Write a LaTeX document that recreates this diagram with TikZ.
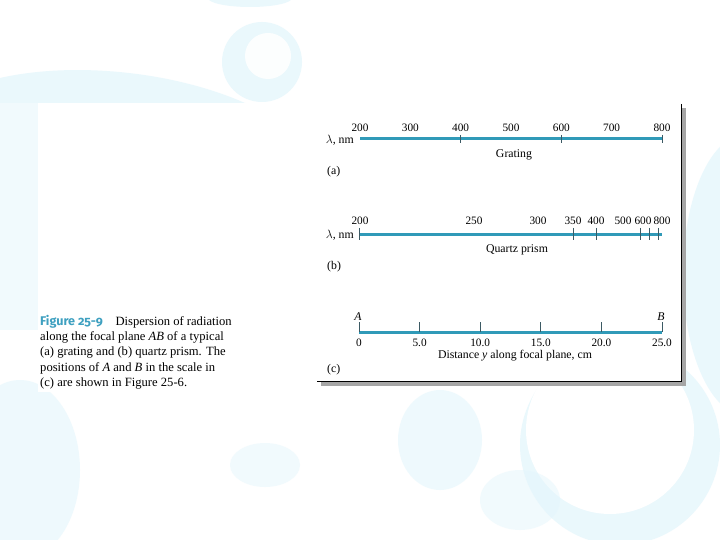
\documentclass[tikz,border=0pt]{standalone}
\usepackage{fontspec}
\setmainfont{Liberation Serif}
\newfontfamily\figfont[Numbers=OldStyle]{Fira Sans}
\usepackage{xcolor}
\usetikzlibrary{positioning,calc}

\definecolor{scaleblue}{RGB}{48,154,184}
\definecolor{tickgray}{RGB}{60,90,100}
\definecolor{capteal}{RGB}{62,160,192}
\definecolor{bgblue}{RGB}{228,246,252}

\begin{document}
\begin{tikzpicture}[
    x=1pt, y=-1pt,
    scaleline/.style={line width=3pt, scaleblue},
    tickmark/.style={line width=0.7pt, tickgray},
    numlabel/.style={font=\fontsize{11.3}{13}\selectfont, inner sep=0pt},
    textlabel/.style={font=\fontsize{11.8}{14}\selectfont, inner sep=0pt},
    bubble/.style={fill=bgblue, draw=none, opacity=0.75}
]
\useasboundingbox (0,0) rectangle (720,540);
\fill[white] (0,0) rectangle (720,540);

% Background bubbles
\fill[bubble] (0,78) .. controls (70,62) and (170,70) .. (245,103) -- (0,103) -- cycle;
\fill[bubble, opacity=0.5] (0,103) rectangle (38,330);
\fill[bubble] (250,-2) ellipse[x radius=42pt, y radius=9pt];
\fill[bubble] (262,62) circle[radius=40pt];
\fill[white, opacity=0.9] (268,56) circle[radius=23pt];
\fill[bubble] (745,275) ellipse[x radius=62pt, y radius=140pt];
\fill[bubble] (620,445) circle[radius=100pt];
\fill[white] (610,430) circle[radius=84pt];
\fill[bubble, opacity=0.6] (440,440) ellipse[x radius=42pt, y radius=50pt];
\fill[bubble, opacity=0.5] (520,500) ellipse[x radius=40pt, y radius=30pt];
\fill[bubble, opacity=0.6] (20,470) ellipse[x radius=60pt, y radius=90pt];
\fill[bubble, opacity=0.5] (265,465) ellipse[x radius=35pt, y radius=22pt];

% White panel with figure frame
\fill[white] (38,103) rectangle (318,392);
\fill[gray!70] (321,381) rectangle (686,386);
\fill[gray!70] (681,108) rectangle (686,386);
\fill[white] (318,103) rectangle (681,381);
\draw[line width=1pt] (681,104) -- (681,381) -- (317,381);

% (a) Grating scale
\coordinate (a0) at (360,139);
\coordinate (a1) at (662,139);
\draw[scaleline] (a0) -- (a1);
\foreach \w [count=\i from 0] in {200,300,400,500,600,700,800}
    \node[numlabel] (ga\i) at (360+50.33*\i,128) {\w};
\foreach \x in {460.7,561.3,662}
    \draw[tickmark] (\x,135) -- (\x,143);
\node[textlabel, anchor=east] (lama) at (354,140) {$\lambda$, nm};
\node[textlabel] (grating) at (514,155) {Grating};
\node[textlabel, anchor=west] (parta) at (327,172) {(a)};

% (b) Quartz prism scale
\coordinate (b0) at (360,234);
\coordinate (b1) at (662,234);
\draw[scaleline] (b0) -- (b1);
\foreach \w/\x in {200/360,250/474,300/538,350/573,400/596,500/623,600/643,800/662}
    \node[numlabel] (qb\w) at (\x,221) {\w};
\foreach \x in {359.5,573,596,640,649,658}
    \draw[tickmark] (\x,228) -- (\x,240);
\node[textlabel, anchor=east] (lamb) at (354,235) {$\lambda$, nm};
\node[textlabel] (quartz) at (517,250) {Quartz prism};
\node[textlabel, anchor=west] (partb) at (327,267) {(b)};

% (c) Distance scale
\coordinate (c0) at (359,332);
\coordinate (c1) at (662,332);
\draw[scaleline] (c0) -- (c1);
\foreach \w [count=\i from 0] in {0,5.0,10.0,15.0,20.0,25.0}{
    \draw[tickmark] (359+60.6*\i,332) -- (359+60.6*\i,322);
    \node[numlabel] (dc\i) at (359+60.6*\i,343) {\w};
}
\node[textlabel] (ptA) at (358,317) {\textit{A}};
\node[textlabel] (ptB) at (661,317) {\textit{B}};
\node[textlabel] (dist) at (515,356) {Distance \textit{y} along focal plane, cm};
\node[textlabel, anchor=west] (partc) at (327,370) {(c)};

% Caption
\node[anchor=north west, align=left, inner sep=0pt,
      font=\fontsize{12.6}{15.2}\selectfont] (caption) at (40,315) {
    {\figfont\bfseries\color{capteal}Figure 25-9}\quad Dispersion of radiation\\
    along the focal plane \textit{AB} of a typical\\
    (a) grating and (b) quartz prism. The\\
    positions of \textit{A} and \textit{B} in the scale in\\
    (c) are shown in Figure 25-6.
};

\end{tikzpicture}
\end{document}
